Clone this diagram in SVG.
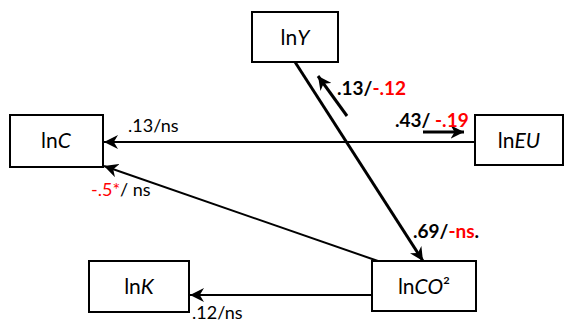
<svg xmlns="http://www.w3.org/2000/svg" width="565" height="324" viewBox="0 0 565 324">
<style>
.box{fill:#fff;stroke:#000;stroke-width:2}
.nt{font-family:Lato,"Liberation Sans",sans-serif;font-size:21px;text-anchor:middle;fill:#000}
.lb{font-family:Lato,"Liberation Sans",sans-serif;font-size:18px;fill:#000}
.b{font-weight:bold;font-size:19px}
.r{fill:#ff0000}
.ln{stroke:#000;stroke-width:2;fill:none}
.th{stroke:#000;stroke-width:3;fill:none}
</style>
<defs>
<marker id="ah" viewBox="0 0 10 10" refX="10" refY="5" markerWidth="7" markerHeight="7" markerUnits="strokeWidth" orient="auto">
<path d="M0,0 L10,5 L0,10 L3,5 z" fill="#000"/>
</marker>
<marker id="ahs" viewBox="0 0 10 10" refX="10" refY="5" markerWidth="4.5" markerHeight="4.5" markerUnits="strokeWidth" orient="auto">
<path d="M0,0 L10,5 L0,10 L3,5 z" fill="#000"/>
</marker>
</defs>
<g id="connectors">
<line class="ln" x1="475" y1="142" x2="104" y2="142" marker-end="url(#ah)"/>
<line class="ln" x1="378" y1="261" x2="104" y2="166" marker-end="url(#ah)"/>
<line class="th" x1="295" y1="62" x2="423" y2="261" marker-end="url(#ahs)"/>
<line class="th" x1="347" y1="116" x2="318" y2="76" marker-end="url(#ahs)"/>
<line class="th" x1="423" y1="132" x2="464" y2="132" marker-end="url(#ahs)"/>
<line class="ln" x1="372" y1="295" x2="190" y2="295" marker-end="url(#ah)"/>
</g>
<g id="lnY"><rect class="box" x="252" y="12" width="86" height="50"/><text class="nt" x="295" y="45">ln<tspan font-style="italic">Y</tspan></text></g>
<g id="lnC"><rect class="box" x="10" y="115" width="93" height="52"/><text class="nt" x="56" y="148">ln<tspan font-style="italic">C</tspan></text></g>
<g id="lnEU"><rect class="box" x="475" y="115" width="88" height="50"/><text class="nt" x="519" y="148">ln<tspan font-style="italic">EU</tspan></text></g>
<g id="lnCO2"><rect class="box" x="372" y="261" width="104" height="50"/><text class="nt" x="424" y="294">ln<tspan font-style="italic">CO</tspan>²</text></g>
<g id="lnK"><rect class="box" x="89" y="261" width="100" height="51"/><text class="nt" x="139" y="294">ln<tspan font-style="italic">K</tspan></text></g>
<g id="labels">
<text class="lb b" x="337" y="95">.13/<tspan class="r">-.12</tspan></text>
<text class="lb b" x="395" y="127">.43/ <tspan class="r">-.19</tspan></text>
<text class="lb" x="128" y="132">.13/ns</text>
<text class="lb" x="91" y="196"><tspan class="r">-.5*</tspan>/ ns</text>
<text class="lb b" x="413" y="238">.69/<tspan class="r">-ns</tspan>.</text>
<text class="lb" x="192" y="319">.12/ns</text>
</g>
</svg>
